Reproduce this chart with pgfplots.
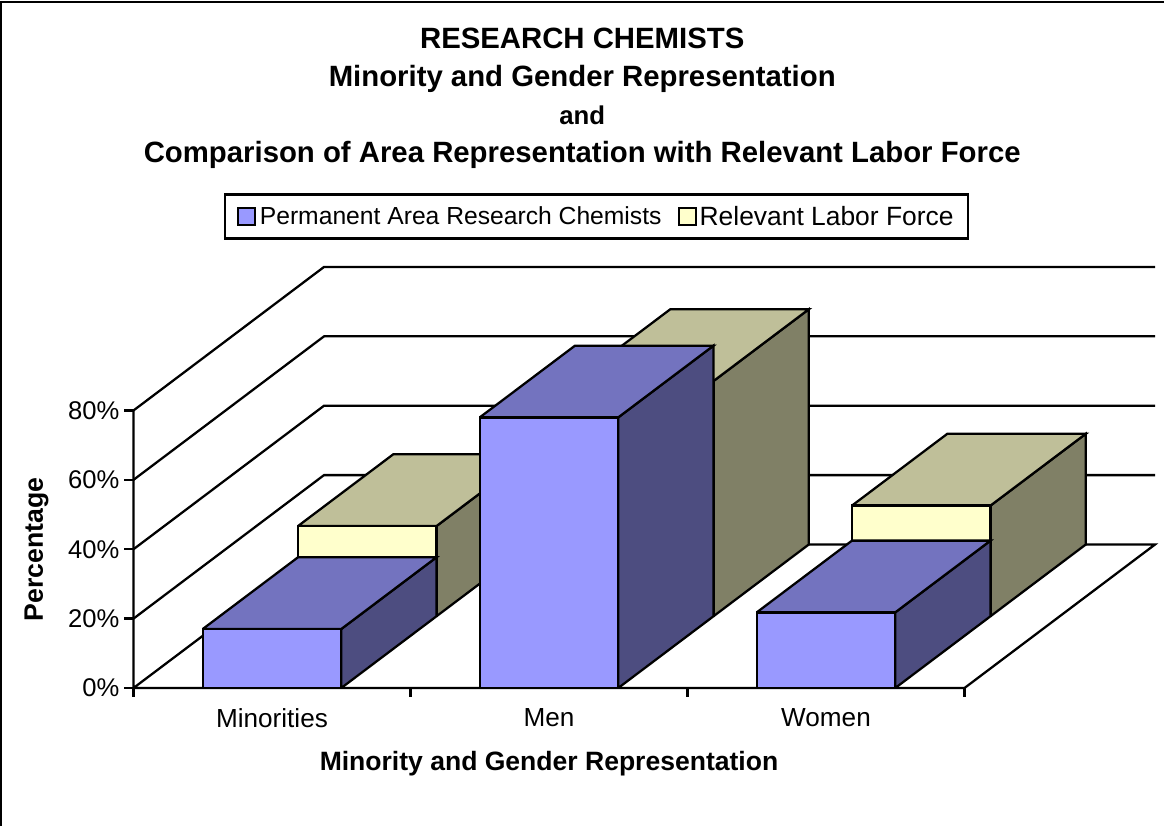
\documentclass[border=0pt]{standalone}
\usepackage{fontspec}
\setmainfont{Liberation Sans}
\usepackage{pgfplots}
\pgfplotsset{compat=1.18}
\definecolor{fa}{HTML}{9999FF}\definecolor{ta}{HTML}{7373BF}\definecolor{sa}{HTML}{4D4D80}
\definecolor{fb}{HTML}{FFFFCC}\definecolor{tb}{HTML}{BFBF99}\definecolor{sb}{HTML}{808066}
% bar: x0,x1,y0,y1,value,front,top,side
\newcommand{\barthreed}[8]{%
\addplot3[forget plot,draw=black,fill=#8,line width=1.7pt] coordinates {(#2,#3,0) (#2,#4,0) (#2,#4,#5) (#2,#3,#5) (#2,#3,0)};
\addplot3[forget plot,draw=black,fill=#7,line width=1.7pt] coordinates {(#1,#3,#5) (#2,#3,#5) (#2,#4,#5) (#1,#4,#5) (#1,#3,#5)};
\addplot3[forget plot,draw=black,fill=#6,line width=1.7pt] coordinates {(#1,#3,0) (#2,#3,0) (#2,#3,#5) (#1,#3,#5) (#1,#3,0)};
}
\newcommand{\frameline}[1]{\addplot3[forget plot,black,line width=1.7pt] coordinates {#1};}
\begin{document}
\begin{tikzpicture}[x=1pt,y=1pt]
\path[use as bounding box] (0,0) rectangle (873,619.5);
\draw[black,line width=1.7pt] (0.8,0) -- (0.8,618.2) -- (873,618.2);
\begin{axis}[
  at={(100.125pt,103.5pt)},anchor=origin,
  x={(207.75pt,0pt)},y={(71.44pt,53.81pt)},z={(0pt,2.602pt)},
  xmin=0,xmax=3,ymin=0,ymax=2,zmin=0,zmax=80,
  clip=false,
  axis line style={draw=none},
  major tick length=0pt,
  ytick=\empty,
  xtick={0.5,1.5,2.5},xticklabels={Minorities,Men,Women},
  ztick={0,20,40,60,80},zticklabels={0\%,20\%,40\%,60\%,80\%},
  tick label style={text=black},
  x tick label style={anchor=center,yshift=-22.5pt,font=\fontsize{19.6}{22}\selectfont},
  z tick label style={anchor=east,xshift=-7pt,font=\fontsize{19.2}{22}\selectfont},
  xlabel={Minority and Gender Representation},
  zlabel={Percentage},
  xlabel style={at={(axis cs:1.5,0,-21.9)},anchor=center,font=\bfseries\fontsize{19.9}{22}\selectfont},
  zlabel style={at={(axis cs:-0.35,0,40)},anchor=center,rotate=0,font=\bfseries\fontsize{20}{22}\selectfont},
  title={RESEARCH CHEMISTS\\Minority and Gender Representation\\{\fontsize{19.3}{28.5}\selectfont and}\\Comparison of Area Representation with Relevant Labor Force},
  title style={at={(axis cs:1.62,0,167.65)},anchor=center,align=center,font=\bfseries\fontsize{22}{28.5}\selectfont},
  legend columns=2,
  legend style={at={(axis cs:1.6715,0,135.9)},anchor=center,draw=black,line width=1.7pt,inner ysep=6.6pt,inner xsep=9pt,
     font=\fontsize{18.5}{22}\selectfont,/tikz/every even column/.append style={column sep=10pt}},
  legend image code/.code={\draw[#1,line width=1.6pt] (0pt,-6.5pt) rectangle (13pt,6.5pt);},
]
\addlegendimage{fill=fa,draw=black}\addlegendentry{\hspace{0.7pt}Permanent Area Research Chemists}
\addlegendimage{fill=fb,draw=black}\addlegendentry{\fontsize{19.8}{22}\selectfont Relevant Labor Force\hspace{7pt}}
% walls and floor
\frameline{(0,0,20) (0,2,20) (3,2,20)}
\frameline{(0,0,40) (0,2,40) (3,2,40)}
\frameline{(0,0,60) (0,2,60) (3,2,60)}
\frameline{(0,0,80) (0,2,80) (3,2,80)}
\frameline{(0,0,80) (0,0,0) (0,2,0) (3,2,0) (3,0,0) (0,0,0)}
% tick marks
\frameline{(0,0,0) (-0.034,0,0)}
\frameline{(0,0,20) (-0.034,0,20)}
\frameline{(0,0,40) (-0.034,0,40)}
\frameline{(0,0,60) (-0.034,0,60)}
\frameline{(0,0,80) (-0.034,0,80)}
\frameline{(0,0,0) (0,0,-2.6)}
\frameline{(1,0,0) (1,0,-2.6)}
\frameline{(2,0,0) (2,0,-2.6)}
\frameline{(3,0,0) (3,0,-2.6)}
% Relevant Labor Force (back row)
\barthreed{0.25}{0.75}{1}{2}{26.0}{fb}{tb}{sb}
\barthreed{1.25}{1.75}{1}{2}{67.8}{fb}{tb}{sb}
\barthreed{2.25}{2.75}{1}{2}{31.9}{fb}{tb}{sb}
% Permanent Area Research Chemists (front row)
\barthreed{0.25}{0.75}{0}{1}{17.0}{fa}{ta}{sa}
\barthreed{1.25}{1.75}{0}{1}{78.0}{fa}{ta}{sa}
\barthreed{2.25}{2.75}{0}{1}{21.8}{fa}{ta}{sa}
\end{axis}
\end{tikzpicture}
\end{document}
